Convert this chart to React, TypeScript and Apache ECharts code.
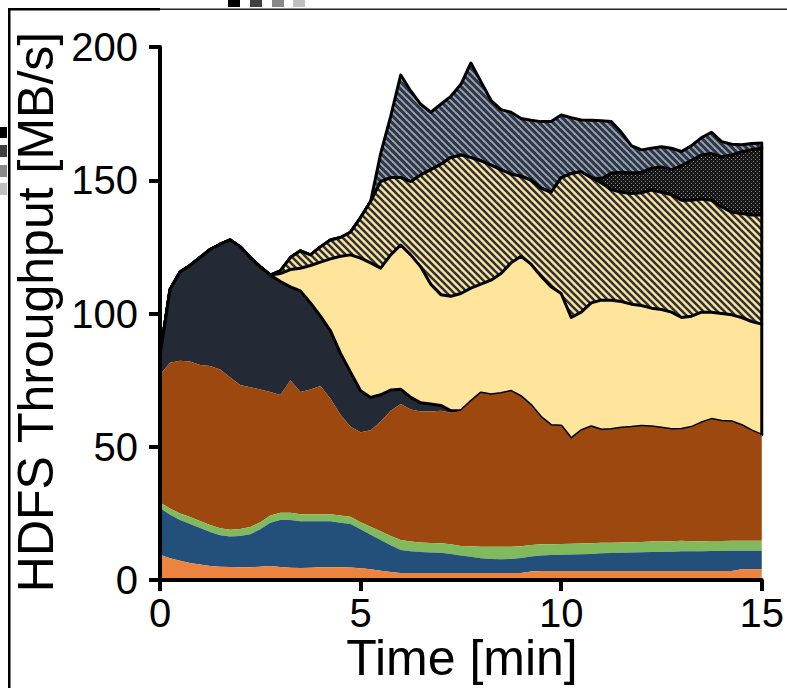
import React, { useEffect, useRef } from "react";
import * as echarts from "echarts";

const FONT = "'Liberation Sans', Arial, Helvetica, sans-serif";

const TIME = [
  0, 0.25, 0.5, 0.75, 1, 1.25, 1.5, 1.75, 2, 2.25,
  2.5, 2.75, 3, 3.25, 3.5, 3.75, 4, 4.25, 4.5, 4.75,
  5, 5.25, 5.5, 5.75, 6, 6.25, 6.5, 6.75, 7, 7.25,
  7.5, 7.75, 8, 8.25, 8.5, 8.75, 9, 9.25, 9.5, 9.75,
  10, 10.25, 10.5, 10.75, 11, 11.25, 11.5, 11.75, 12, 12.25,
  12.5, 12.75, 13, 13.25, 13.5, 13.75, 14, 14.25, 14.5, 14.75,
  15,
];

const ORANGE = [
  9.5, 8.2, 7.2, 6.4, 5.8, 5.3, 5.0, 4.9, 4.8, 4.8,
  5.0, 5.3, 4.9, 4.6, 4.5, 4.6, 4.8, 4.8, 4.8, 4.7,
  4.4, 4.0, 3.5, 3.0, 2.6, 2.6, 2.6, 2.6, 2.6, 2.6,
  2.6, 2.6, 2.6, 2.6, 2.6, 2.6, 2.6, 3.2, 3.4, 3.4,
  3.4, 3.4, 3.4, 3.4, 3.4, 3.4, 3.4, 3.4, 3.4, 3.4,
  3.4, 3.4, 3.4, 3.4, 3.4, 3.4, 3.4, 3.4, 4.0, 4.0,
  4.0,
];

const BLUE = [
  17.5, 16.3, 15.3, 14.6, 13.7, 12.7, 11.8, 11.4, 11.7, 12.4,
  14.0, 16.2, 17.6, 17.9, 17.5, 17.4, 17.2, 17.2, 16.7, 16.3,
  14.6, 13.0, 11.5, 10.0, 8.7, 8.2, 7.9, 7.7, 7.6, 7.2,
  6.6, 6.1, 5.6, 5.3, 5.2, 5.3, 5.7, 5.6, 5.8, 6.0,
  6.1, 6.2, 6.3, 6.4, 6.6, 6.7, 6.8, 6.9, 7.0, 7.1,
  7.1, 7.2, 7.4, 7.4, 7.4, 7.5, 7.5, 7.6, 7.0, 7.0,
  7.0,
];

const GREEN = [
  2.1, 2.3, 2.5, 2.6, 2.6, 2.6, 2.6, 2.6, 2.6, 2.7,
  2.7, 2.7, 2.7, 2.7, 2.7, 2.7, 2.7, 2.7, 2.7, 2.7,
  2.7, 3.0, 3.3, 3.5, 3.7, 3.6, 3.6, 3.6, 3.6, 3.6,
  3.6, 4.0, 4.3, 4.6, 4.7, 4.6, 4.4, 4.3, 4.2, 4.0,
  4.0, 4.0, 4.0, 4.0, 4.0, 3.9, 3.9, 3.9, 3.9, 3.9,
  3.9, 3.9, 3.9, 3.7, 3.7, 3.7, 3.7, 3.7, 3.7, 3.7,
  3.7,
];

const BROWN = [
  47.9, 54.7, 57.3, 58.4, 58.6, 59.7, 59.6, 57.1, 54.1, 52.4,
  49.8, 46.3, 44.2, 49.8, 45.8, 46.8, 48.1, 43.3, 37.8, 33.8,
  33.7, 36.2, 41.2, 47.0, 51.0, 49.6, 49.1, 49.3, 49.7, 49.4,
  50.7, 54.3, 57.7, 57.0, 57.5, 58.3, 56.1, 52.4, 47.6, 44.6,
  44.3, 39.4, 42.3, 43.7, 42.3, 42.5, 42.9, 43.1, 43.4, 43.1,
  42.6, 42.0, 41.9, 42.8, 44.5, 45.7, 45.0, 44.7, 43.3, 41.3,
  39.7,
];

const NAVY = [
  7, 27.5, 33.3, 36, 40.3, 43.7, 47, 51.6, 51.8, 48.7,
  46, 43.9, 42.6, 35, 38, 32.5, 26.2, 25.5, 23, 20.5,
  15.6, 12.3, 10, 7.8, 5.6, 4.5, 3.3, 2.8, 2.0, 0.7,
  0, 0, 0, 0, 0, 0, 0, 0, 0, 0,
  0, 0, 0, 0, 0, 0, 0, 0, 0, 0,
  0, 0, 0, 0, 0, 0, 0, 0, 0, 0,
  0,
];

const LIGHT_YELLOW = [
  0, 0, 0, 0, 0, 0, 0, 0, 0, 0,
  0, 0, 3, 6.5, 8.5, 14, 20.3, 27, 36.5, 44,
  49.8, 50.5, 47.5, 50.7, 54.1, 53.5, 51, 45, 41.5, 43,
  44, 42.5, 40.8, 43, 45, 48.2, 52.7, 53, 53, 52,
  49.7, 45.5, 44.5, 46.5, 48.7, 48.5, 47.5, 46.2, 45.3, 44.5,
  44.5, 44, 41.9, 41.7, 41.5, 40.2, 40.4, 40.1, 40.5, 41,
  41.6,
];

const HATCHED_YELLOW = [
  0, 0, 0, 0, 0, 0, 0, 0, 0, 0,
  0, 0, 1, 4.5, 6.5, 4, 5.7, 7.1, 7, 8.5,
  15.2, 23, 32.5, 29, 25.3, 27.5, 34.5, 43, 49, 52,
  52, 49, 46.3, 43.2, 39, 33.3, 30, 31.5, 33, 35.5,
  43.5, 54, 52.7, 47, 44, 41.5, 41, 41.5, 42.3, 44.3,
  44, 44, 44, 43.5, 42.5, 42, 40, 38.5, 39, 40,
  41,
];

const DOTTED = [
  0, 0, 0, 0, 0, 0, 0, 0, 0, 0,
  0, 0, 0, 0, 0, 0, 0, 0, 0, 0,
  0, 0, 0, 0, 0, 0, 0, 0, 0, 0,
  0, 0, 0, 0, 0, 0, 0, 0, 0, 0,
  0, 0, 0, 0, 1.5, 6.2, 7.5, 7.7, 7.7, 8.2,
  9.5, 9.5, 13, 15, 16.5, 17.5, 18.8, 21.5, 23.2, 24.5,
  25,
];

const GRAY_HATCHED = [
  0, 0, 0, 0, 0, 0, 0, 0, 0, 0,
  0, 0, 0, 0, 0, 0, 0, 0, 0, 0,
  0, 0, 10.5, 23, 38.5, 34, 26.5, 21.5, 22.5, 23,
  26.5, 35.5, 29.7, 24.3, 22.5, 23.2, 21.7, 22.5, 25, 26.5,
  23.5, 21, 19.4, 21.5, 21.8, 19.3, 15, 10.3, 8.4, 7.5,
  7.6, 8, 5.3, 5.5, 6.5, 8, 5.7, 4, 2.6, 2.3,
  2,
];

const X_TICKS = [0, 5, 10, 15];
const Y_TICKS = [0, 50, 100, 150, 200];

function makeHatch(bg: string, fg: string, size: number, lw: number) {
  const c = document.createElement("canvas");
  c.width = size;
  c.height = size;
  const ctx = c.getContext("2d")!;
  ctx.fillStyle = bg;
  ctx.fillRect(0, 0, size, size);
  ctx.strokeStyle = fg;
  ctx.lineWidth = lw;
  for (const k of [-1, 0, 1]) {
    ctx.beginPath();
    ctx.moveTo(k * size - 1, -1);
    ctx.lineTo(k * size + size + 1, size + 1);
    ctx.stroke();
  }
  return { image: c, repeat: "repeat", imageWidth: size, imageHeight: size };
}

function makeDots(bg: string, fg: string) {
  const size = 4;
  const c = document.createElement("canvas");
  c.width = size;
  c.height = size;
  const ctx = c.getContext("2d")!;
  ctx.fillStyle = bg;
  ctx.fillRect(0, 0, size, size);
  ctx.fillStyle = fg;
  ctx.fillRect(1, 1, 1, 1);
  ctx.fillRect(3, 3, 1, 1);
  return { image: c, repeat: "repeat", imageWidth: size, imageHeight: size };
}

export default function App() {
  const ref = useRef<HTMLDivElement>(null);

  useEffect(() => {
    const el = ref.current!;
    const chart = echarts.init(el, undefined, { renderer: "svg" });

    const layers = [
      { name: "orange", data: ORANGE, fill: "#EC843F", outline: false },
      { name: "blue", data: BLUE, fill: "#22507A", outline: false },
      { name: "green", data: GREEN, fill: "#80BA5C", outline: false },
      { name: "brown", data: BROWN, fill: "#9C480E", outline: false },
      { name: "navy", data: NAVY, fill: "#232A35", outline: true },
      { name: "lightYellow", data: LIGHT_YELLOW, fill: "#FEE59B", outline: true },
      { name: "hatchedYellow", data: HATCHED_YELLOW, fill: makeHatch("#FEE59B", "#2E323B", 7, 2.6), outline: true },
      { name: "dotted", data: DOTTED, fill: makeDots("#161616", "#8a8a8a"), outline: true },
      { name: "grayHatched", data: GRAY_HATCHED, fill: makeHatch("#2F3746", "#98A4B6", 7, 1.9), outline: true },
    ];

    const categories = TIME.map((t) => String(t));

    const series: any[] = layers.map((l, i) => ({
      name: l.name,
      type: "line",
      stack: "total",
      data: l.data,
      symbol: "none",
      showSymbol: false,
      silent: true,
      z: 20 - i,
      lineStyle: l.outline
        ? { color: "#000", width: 3, join: "round", cap: "round" }
        : { width: 0, opacity: 0 },
      areaStyle: { color: l.fill, opacity: 1 },
    }));

    const cum = (j: number, n: number) => {
      let s = 0;
      for (let k = 0; k < n; k++) s += layers[k].data[j];
      return s;
    };
    const last = TIME.length - 1;
    const edges = [
      [[categories[0], cum(0, 4)], [categories[0], cum(0, layers.length)]],
      [[categories[last], cum(last, 4)], [categories[last], cum(last, layers.length)]],
    ];
    edges.forEach((d, i) => {
      series.push({
        name: "edge" + i,
        type: "line",
        data: d,
        symbol: "none",
        silent: true,
        clip: false,
        z: 21,
        lineStyle: { color: "#000", width: 3 },
      });
    });

    const isTick = (index: number) => X_TICKS.indexOf(TIME[index]) >= 0;

    chart.setOption({
      animation: false,
      grid: { left: 160, right: 22, top: 47, bottom: 108, containLabel: false },
      xAxis: {
        type: "category",
        data: categories,
        boundaryGap: false,
        z: 30,
        axisLine: { show: true, onZero: false, lineStyle: { color: "#000", width: 4 } },
        axisTick: {
          show: true,
          length: 11,
          interval: (index: number) => isTick(index),
          lineStyle: { color: "#000", width: 4 },
        },
        axisLabel: {
          color: "#000",
          fontSize: 40,
          fontFamily: FONT,
          lineHeight: 28,
          margin: 19,
          interval: (index: number) => isTick(index),
          showMaxLabel: true,
        },
        splitLine: { show: false },
      },
      yAxis: {
        type: "value",
        min: Y_TICKS[0],
        max: Y_TICKS[Y_TICKS.length - 1],
        interval: Y_TICKS[1] - Y_TICKS[0],
        z: 30,
        axisLine: { show: true, onZero: false, lineStyle: { color: "#000", width: 4 } },
        axisTick: { show: true, length: 11, lineStyle: { color: "#000", width: 4 } },
        axisLabel: { color: "#000", fontSize: 40, fontFamily: FONT, margin: 22 },
        splitLine: { show: false },
      },
      series,
      graphic: [
        { type: "rect", shape: { x: 8, y: 8, width: 152, height: 2.5 }, style: { fill: "#000" }, silent: true },
        { type: "rect", shape: { x: 160, y: 8.5, width: 627, height: 1.5 }, style: { fill: "#222" }, silent: true },
        { type: "rect", shape: { x: 8, y: 8, width: 2.5, height: 680 }, style: { fill: "#000" }, silent: true },
        { type: "rect", shape: { x: 228, y: 0, width: 12, height: 7 }, style: { fill: "#000" }, silent: true },
        { type: "rect", shape: { x: 250, y: 0, width: 12, height: 7 }, style: { fill: "#404040" }, silent: true },
        { type: "rect", shape: { x: 272, y: 0, width: 12, height: 7 }, style: { fill: "#888888" }, silent: true },
        { type: "rect", shape: { x: 293, y: 0, width: 12, height: 7 }, style: { fill: "#C0C0C0" }, silent: true },
        { type: "rect", shape: { x: 0, y: 127, width: 7, height: 11 }, style: { fill: "#000" }, silent: true },
        { type: "rect", shape: { x: 0, y: 145, width: 7, height: 12 }, style: { fill: "#404040" }, silent: true },
        { type: "rect", shape: { x: 0, y: 165, width: 7, height: 12 }, style: { fill: "#888888" }, silent: true },
        { type: "rect", shape: { x: 0, y: 183, width: 7, height: 12 }, style: { fill: "#C0C0C0" }, silent: true },
        {
          type: "text",
          x: 36,
          y: 312,
          rotation: Math.PI / 2,
          silent: true,
          style: {
            text: "HDFS Throughput [MB/s]",
            fill: "#000",
            font: `50px ${FONT}`,
            lineHeight: 40,
            textAlign: "center",
            textVerticalAlign: "middle",
            align: "center",
            verticalAlign: "middle",
          },
        },
        {
          type: "text",
          x: 462,
          y: 658,
          silent: true,
          style: {
            text: "Time [min]",
            fill: "#000",
            font: `50px ${FONT}`,
            lineHeight: 38,
            textAlign: "center",
            textVerticalAlign: "middle",
            align: "center",
            verticalAlign: "middle",
          },
        },
      ],
    });

    return () => chart.dispose();
  }, []);

  return (
    <div
      ref={ref}
      style={{ position: "absolute", left: 0, top: 0, width: 787, height: 688 }}
    />
  );
}
